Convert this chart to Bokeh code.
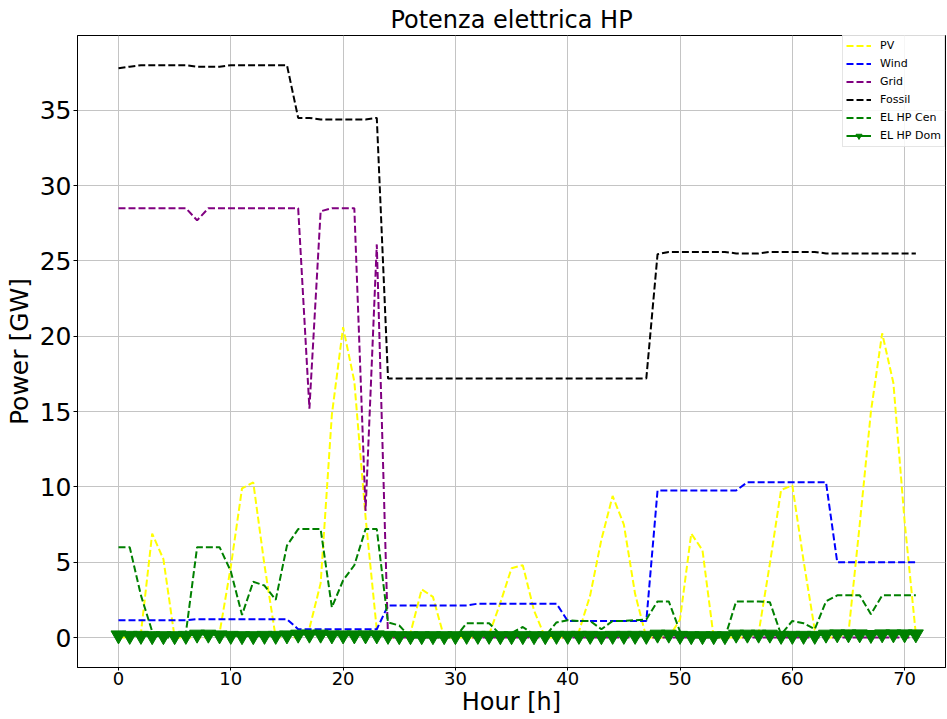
from bokeh.plotting import figure
from bokeh.models import Range1d, Legend, LegendItem, ColumnDataSource, FixedTicker
from bokeh.embed import file_html
from bokeh.resources import INLINE

hours = list(range(72))

pv = [0, 0, 0.3, 6.9, 5.2, 0, 0, 0, 0, 0.3,
      4.7, 9.9, 10.3, 4.8, 0, 0, 0, 0.6, 3.6, 14.8,
      20.6, 17.0, 8.0, 0.5, 0, 0, 0.3, 3.2, 2.7, 0,
      0, 0, 0, 0.2, 2.3, 4.6, 4.8, 1.8, 0, 0,
      0, 0.4, 2.8, 6.5, 9.4, 7.5, 2.9, 0, 0, 0,
      1.2, 6.9, 5.8, 0, 0, 0, 0, 0.3, 4.9, 9.8,
      10.1, 5.1, 0.5, 0, 0, 0.3, 7.5, 15.0, 20.2, 16.9,
      7.7, 0.2]

wind = [1.15, 1.15, 1.15, 1.15, 1.15, 1.15, 1.15, 1.22, 1.22, 1.22,
        1.22, 1.22, 1.22, 1.22, 1.22, 1.22, 0.55, 0.55, 0.55, 0.55,
        0.55, 0.55, 0.55, 0.55, 2.12, 2.12, 2.12, 2.12, 2.12, 2.12,
        2.12, 2.12, 2.25, 2.25, 2.25, 2.25, 2.25, 2.25, 2.25, 2.25,
        1.1, 1.1, 1.1, 1.1, 1.1, 1.1, 1.1, 1.1, 9.76, 9.76,
        9.76, 9.76, 9.76, 9.76, 9.76, 9.76, 10.31, 10.31, 10.31, 10.31,
        10.31, 10.31, 10.31, 10.31, 5.0, 5.0, 5.0, 5.0, 5.0, 5.0,
        5.0, 5.0]

grid = [28.5, 28.5, 28.5, 28.5, 28.5, 28.5, 28.5, 27.7, 28.5, 28.5,
        28.5, 28.5, 28.5, 28.5, 28.5, 28.5, 28.5, 15.2, 28.3, 28.5,
        28.5, 28.5, 8.4, 26.1, 0, 0, 0, 0, 0, 0,
        0, 0, 0, 0, 0, 0, 0, 0, 0, 0,
        0, 0, 0, 0, 0, 0, 0, 0, 0, 0,
        0, 0, 0, 0, 0, 0, 0, 0, 0, 0,
        0, 0, 0, 0, 0, 0, 0, 0, 0, 0,
        0, 0]

fossil = [37.8, 37.9, 38.0, 38.0, 38.0, 38.0, 38.0, 37.9, 37.9, 37.9,
          38.0, 38.0, 38.0, 38.0, 38.0, 38.0, 34.5, 34.5, 34.4, 34.4,
          34.4, 34.4, 34.4, 34.5, 17.2, 17.2, 17.2, 17.2, 17.2, 17.2,
          17.2, 17.2, 17.2, 17.2, 17.2, 17.2, 17.2, 17.2, 17.2, 17.2,
          17.2, 17.2, 17.2, 17.2, 17.2, 17.2, 17.2, 17.2, 25.45, 25.6,
          25.6, 25.6, 25.6, 25.6, 25.6, 25.5, 25.5, 25.5, 25.6, 25.6,
          25.6, 25.6, 25.6, 25.5, 25.5, 25.5, 25.5, 25.5, 25.5, 25.5,
          25.5, 25.5]

el_hp_cen = [6.0, 6.0, 2.8, 0.4, 0, 0, 0.3, 6.0, 6.0, 6.0,
             4.4, 1.5, 3.7, 3.45, 2.5, 6.1, 7.2, 7.2, 7.2, 2.0,
             3.8, 4.8, 7.2, 7.2, 1.0, 0.8, 0, 0, 0, 0,
             0, 0.95, 0.95, 0.95, 0.2, 0.3, 0.7, 0.2, 0.1, 1.0,
             1.15, 1.1, 1.1, 0.55, 1.1, 1.1, 1.15, 1.2, 2.4, 2.4,
             0.4, 0, 0, 0, 0, 2.4, 2.4, 2.4, 2.35, 0.2,
             1.1, 0.95, 0.55, 2.4, 2.8, 2.8, 2.8, 1.55, 2.8, 2.8,
             2.8, 2.8]

el_hp_dom = [0.15, 0.12, 0.12, 0.1, 0.1, 0.1, 0.12, 0.2, 0.2, 0.15,
             0.12, 0.1, 0.1, 0.12, 0.12, 0.15, 0.2, 0.2, 0.2, 0.15,
             0.15, 0.15, 0.15, 0.15, 0.12, 0.1, 0.1, 0.1, 0.1, 0.1,
             0.1, 0.12, 0.12, 0.12, 0.1, 0.1, 0.1, 0.1, 0.1, 0.12,
             0.12, 0.12, 0.12, 0.1, 0.12, 0.12, 0.12, 0.12, 0.2, 0.2,
             0.12, 0.1, 0.1, 0.1, 0.1, 0.2, 0.2, 0.2, 0.2, 0.12,
             0.12, 0.12, 0.12, 0.2, 0.22, 0.22, 0.22, 0.18, 0.22, 0.22,
             0.22, 0.22]

x_ticks = [0, 10, 20, 30, 40, 50, 60, 70]
y_ticks = [0, 5, 10, 15, 20, 25, 30, 35]

FONT = "DejaVu Sans"

p = figure(width=947, height=719, output_backend="svg", toolbar_location=None,
           x_range=Range1d(-3.65, 73.64), y_range=Range1d(-1.99, 39.97),
           min_border_left=77, min_border_right=2, min_border_top=35, min_border_bottom=52)

p.title.text = "Potenza elettrica HP"
p.title.align = "center"
p.title.text_font = FONT
p.title.text_font_size = "24px"
p.title.text_font_style = "normal"
p.title.text_color = "black"
p.title.standoff = 3

p.background_fill_color = "white"
p.border_fill_color = "white"
p.outline_line_color = "black"
p.outline_line_width = 1

for g in (p.xgrid, p.ygrid):
    g.grid_line_color = "#c4c4c4"
    g.grid_line_width = 1
p.xaxis.ticker = FixedTicker(ticks=x_ticks)
p.yaxis.ticker = FixedTicker(ticks=y_ticks)

for ax in (p.xaxis, p.yaxis):
    ax.axis_line_color = "black"
    ax.major_tick_line_color = "black"
    ax.major_tick_out = 4
    ax.major_tick_in = 0
    ax.minor_tick_line_color = None
    ax.major_label_text_font = FONT
    ax.axis_label_text_font = FONT
    ax.axis_label_text_font_style = "normal"
    ax.major_label_text_color = "black"
    ax.axis_label_text_color = "black"

p.xaxis.axis_label = "Hour [h]"
p.yaxis.axis_label = "Power [GW]"
p.xaxis.major_label_text_font_size = "18px"
p.yaxis.major_label_text_font_size = "25px"
p.xaxis.axis_label_text_font_size = "24px"
p.yaxis.axis_label_text_font_size = "25px"
p.xaxis.major_label_standoff = 1
p.yaxis.major_label_standoff = 2
p.xaxis.axis_label_standoff = 0
p.yaxis.axis_label_standoff = 3
p.xaxis.major_tick_out = 3

src = ColumnDataSource(dict(h=hours, pv=pv, wind=wind, grid=grid, fossil=fossil,
                            cen=el_hp_cen, dom=el_hp_dom))

dash = "7 3"
r_pv = p.line("h", "pv", source=src, line_color="yellow", line_width=2, line_dash=dash)
r_wind = p.line("h", "wind", source=src, line_color="blue", line_width=2, line_dash=dash)
r_grid = p.line("h", "grid", source=src, line_color="purple", line_width=2, line_dash=dash)
r_fossil = p.line("h", "fossil", source=src, line_color="black", line_width=2, line_dash=dash)
r_cen = p.line("h", "cen", source=src, line_color="green", line_width=2, line_dash=dash)
r_dom_l = p.line("h", "dom", source=src, line_color="green", line_width=2)
r_dom_m = p.scatter("h", "dom", source=src, marker="inverted_triangle", size=15,
                    fill_color="green", line_color="green")

legend = Legend(items=[
    LegendItem(label="PV", renderers=[r_pv]),
    LegendItem(label="Wind", renderers=[r_wind]),
    LegendItem(label="Grid", renderers=[r_grid]),
    LegendItem(label="Fossil", renderers=[r_fossil]),
    LegendItem(label="EL HP Cen", renderers=[r_cen]),
    LegendItem(label="EL HP Dom", renderers=[r_dom_l, r_dom_m]),
], location=(765, 520))
legend.label_text_font = FONT
legend.label_text_font_size = "11px"
legend.label_text_color = "black"
legend.label_height = 15
legend.glyph_height = 15
legend.glyph_width = 25
legend.spacing = 3
legend.padding = 3
legend.margin = 0
legend.label_standoff = 9
legend.border_line_color = "#cccccc"
legend.border_line_width = 1
legend.background_fill_color = "white"
legend.background_fill_alpha = 0.85
p.add_layout(legend, "center")

open("out.html", "w").write(file_html(p, INLINE))
